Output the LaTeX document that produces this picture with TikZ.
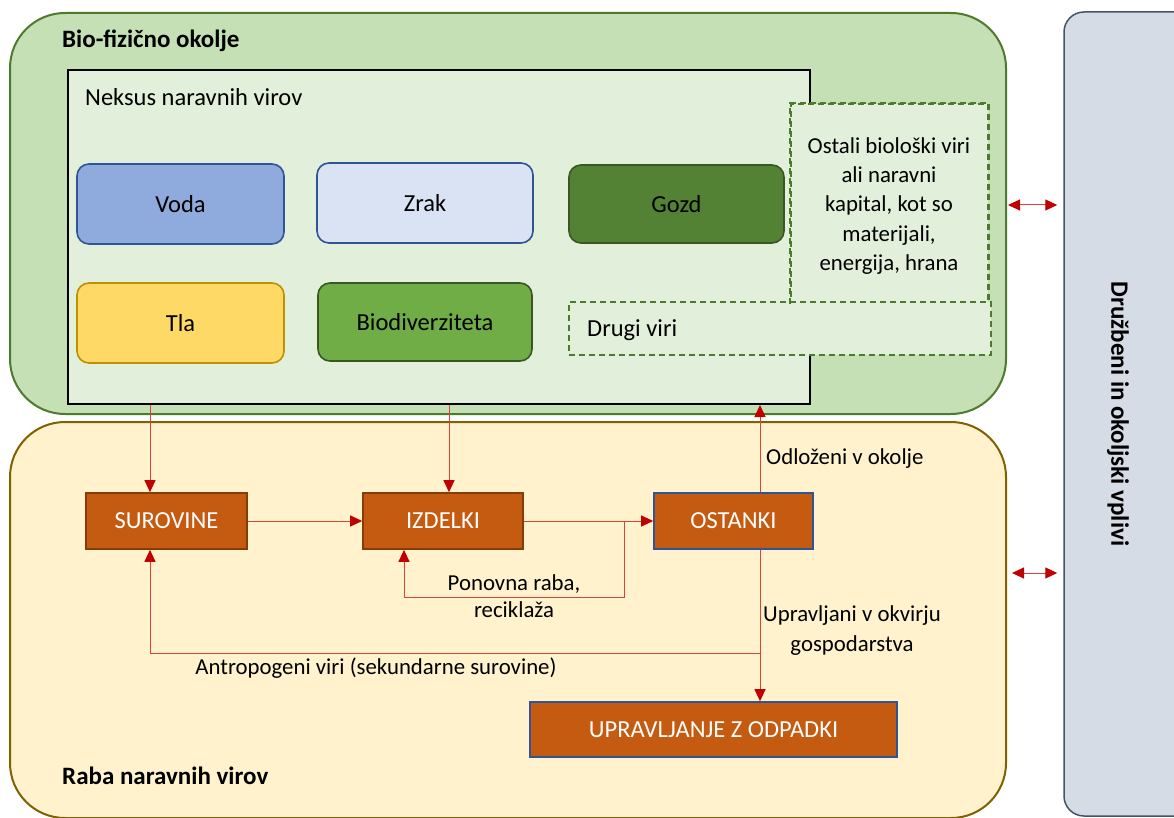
\documentclass[tikz,border=0pt]{standalone}
\usepackage{fontspec}
\setmainfont{Carlito}
\usetikzlibrary{arrows.meta}
\definecolor{envfill}{HTML}{C5E0B4}
\definecolor{envline}{HTML}{4E7A2E}
\definecolor{nexfill}{HTML}{E2EFDA}
\definecolor{usefill}{HTML}{FFF2CC}
\definecolor{useline}{HTML}{806000}
\definecolor{impfill}{HTML}{D6DCE5}
\definecolor{impline}{HTML}{44546A}
\definecolor{waterfill}{HTML}{8FAADC}
\definecolor{airfill}{HTML}{DAE3F3}
\definecolor{blueline}{HTML}{2F5597}
\definecolor{forestfill}{HTML}{548235}
\definecolor{darkgreen}{HTML}{385723}
\definecolor{soilfill}{HTML}{FFD966}
\definecolor{soilline}{HTML}{BF9000}
\definecolor{biofill}{HTML}{70AD47}
\definecolor{procfill}{HTML}{C55A11}
\definecolor{procline}{HTML}{843C0C}
\definecolor{flowline}{HTML}{E0403A}
\definecolor{tipred}{HTML}{C00000}
\tikzset{
  every node/.style={font=\fontsize{24.5}{29}\selectfont, inner sep=0pt},
  boldtext/.style={font=\bfseries\fontsize{25}{30}\selectfont},
  resbox/.style={draw, line width=1.6pt, rounded corners=12pt, align=center},
  procbox/.style={draw=procline, fill=procfill, line width=1.6pt, text=white, align=center},
  dashbox/.style={draw=envline, fill=nexfill, dashed, dash pattern=on 6pt off 4pt, line width=1.6pt},
  flow/.style={draw=flowline, line width=1pt, -{Triangle[length=12pt,width=11pt,color=tipred]}},
  both/.style={draw=flowline, line width=1pt, {Triangle[length=12pt,width=11pt,color=tipred]}-{Triangle[length=12pt,width=11pt,color=tipred]}},
  lbl/.style={align=center, font=\fontsize{22.8}{29}\selectfont}
}
\begin{document}
\begin{tikzpicture}[x=1pt,y=-1pt]
\useasboundingbox (0,0) rectangle (1174,818);
\fill[white] (0,0) rectangle (1174,818);

% outer areas
\node[draw=envline, fill=envfill, line width=2pt, rounded corners=55pt,
      minimum width=996pt, minimum height=401pt] (env) at (508,213.5) {};
\node[draw=useline, fill=usefill, line width=2pt, rounded corners=55pt,
      minimum width=996pt, minimum height=396pt] (use) at (508,620) {};
\node[draw=impline, fill=impfill, line width=1.5pt, rounded corners=20pt,
      minimum width=130pt, minimum height=804pt] (imp) at (1129,414) {};
\node[rotate=-90, boldtext] (imptext) at (1118,414) {Družbeni in okoljski vplivi};

% nexus of natural resources
\node[draw=black, fill=nexfill, line width=2pt, minimum width=742pt, minimum height=334pt] (nexus) at (439,237) {};
\node[anchor=west, boldtext] (envtitle) at (62,41) {Bio-fizično okolje};
\node[anchor=west] (nextitle) at (85,97) {Neksus naravnih virov};

\node[dashbox, minimum width=197pt, minimum height=199pt] (other) at (889.5,203.5) {};
\node[dashbox, minimum width=422pt, minimum height=53pt] (drugi) at (780,328.5) {};
\draw[envline, dashed, dash pattern=on 6pt off 4pt, line width=1.6pt]
  (other.south west) -- (other.north west) -- (other.north east) -- (other.south east);
\node[lbl, font=\fontsize{22.8}{29.3}\selectfont] (othertext) at (889,206) {Ostali biološki viri\\ali naravni\\kapital, kot so\\materijali,\\energija, hrana};
\node[anchor=west] (drugitext) at (587,330) {Drugi viri};

\node[resbox, draw=blueline, fill=waterfill, minimum width=207pt, minimum height=80pt] (voda) at (180.5,204) {Voda};
\node[resbox, draw=blueline, fill=airfill, minimum width=216pt, minimum height=80pt] (zrak) at (425,203) {Zrak};
\node[resbox, draw=darkgreen, fill=forestfill, minimum width=215pt, minimum height=78pt] (gozd) at (676.5,204) {Gozd};
\node[resbox, draw=soilline, fill=soilfill, minimum width=207pt, minimum height=80pt] (tla) at (180.5,323) {Tla};
\node[resbox, draw=darkgreen, fill=biofill, minimum width=214pt, minimum height=78pt] (bio) at (425,322) {Biodiverziteta};

% use of natural resources
\node[anchor=west, boldtext] (usetitle) at (62,776) {Raba naravnih virov};
\node[procbox, minimum width=161pt, minimum height=56pt] (sur) at (166.5,521) {SUROVINE};
\node[procbox, minimum width=160pt, minimum height=56pt] (izd) at (443,521) {IZDELKI};
\node[procbox, draw=blueline, minimum width=159pt, minimum height=56pt] (ost) at (733.5,521) {OSTANKI};
\node[procbox, draw=blueline, minimum width=367pt, minimum height=55pt] (upr) at (713.5,729.5) {UPRAVLJANJE Z ODPADKI};

% flow junctions
\coordinate (xs) at (150,0);
\coordinate (xi) at (449,0);
\coordinate (xo) at (760,0);
\coordinate (loopA) at (624,521);
\coordinate (loopB) at (624,597);
\coordinate (loopC) at (404,597);
\coordinate (backA) at (760,653);
\coordinate (backB) at (150,653);

% flows
\draw[flow] (nexus.south -| xs) -- (sur.north -| xs);
\draw[flow] (nexus.south -| xi) -- (izd.north -| xi);
\draw[flow] (sur.east) -- (izd.west);
\draw[flow] (izd.east) -- (ost.west);
\draw[flow] (loopA) -- (loopB) -- (loopC) -- (izd.south -| loopC);
\draw[flow] (ost.north -| xo) -- (nexus.south -| xo);
\draw[flow] (ost.south -| xo) -- (upr.north -| xo);
\draw[flow] (backA) -- (backB) -- (sur.south -| backB);

\node[lbl, anchor=west] (odl) at (766,459) {Odloženi v okolje};
\node[lbl, font=\fontsize{22.8}{27}\selectfont] (pon) at (514,596) {Ponovna raba,\\reciklaža};
\node[lbl, font=\fontsize{22.8}{30}\selectfont] (upl) at (852,631) {Upravljani v okvirju\\gospodarstva};
\node[lbl] (ant) at (376,668) {Antropogeni viri (sekundarne surovine)};

% links to social and environmental impacts
\coordinate (e1) at (1008,205);
\coordinate (e2) at (1012,573);
\draw[both] (e1) -- ([xshift=-6pt]e1 -| imp.west);
\draw[both] (e2) -- ([xshift=-6pt]e2 -| imp.west);
\end{tikzpicture}
\end{document}
